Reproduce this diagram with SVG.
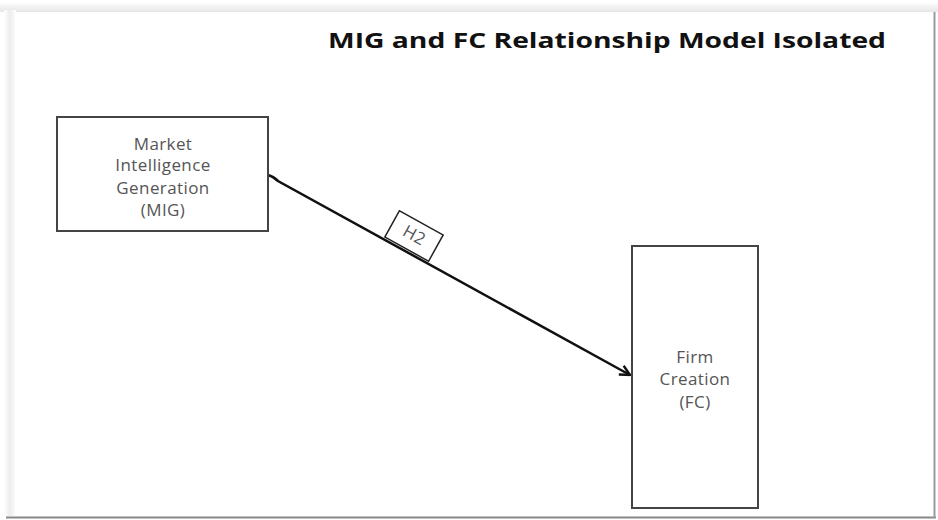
<svg xmlns="http://www.w3.org/2000/svg" width="938" height="520" viewBox="0 0 938 520">
<defs>
<linearGradient id="topShadow" x1="0" y1="0" x2="0" y2="1">
<stop offset="0" stop-color="#ffffff"/>
<stop offset="1" stop-color="#e6e6e6"/>
</linearGradient>
<linearGradient id="leftShadow" x1="0" y1="0" x2="1" y2="0">
<stop offset="0" stop-color="#ffffff"/>
<stop offset="0.5" stop-color="#ececec"/>
<stop offset="1" stop-color="#ffffff"/>
</linearGradient>
<marker id="arrow" viewBox="0 0 12 12" refX="11" refY="6" markerWidth="12" markerHeight="12" markerUnits="userSpaceOnUse" orient="auto">
<path d="M1,1 L11,6 L1,11" fill="none" stroke="#111" stroke-width="2.4"/>
</marker>
</defs>
<style>
.box{fill:#fff;stroke:#444;stroke-width:2}
.lbl{font-family:"Open Sans","Liberation Sans",sans-serif;font-size:17px;letter-spacing:0.4px;fill:#555;text-anchor:middle}
.title{font-family:"Open Sans","Liberation Sans",sans-serif;font-size:22px;font-weight:bold;fill:#111}
.conn{fill:none;stroke:#111;stroke-width:2.5}
</style>
<rect width="938" height="520" fill="#fff"/>
<rect x="0" y="2" width="938" height="10" fill="url(#topShadow)"/>
<rect x="4" y="10" width="12" height="506" fill="url(#leftShadow)"/>
<line x1="6" y1="517.5" x2="936" y2="517.5" stroke="#888" stroke-width="2"/>
<line x1="934.5" y1="12" x2="934.5" y2="518" stroke="#999" stroke-width="2"/>
<g id="title">
<text class="title" x="328" y="48" textLength="558" lengthAdjust="spacingAndGlyphs">MIG and FC Relationship Model Isolated</text>
</g>
<g id="connectors">
<path class="conn" d="M268,175 C272,176 275,178 278,181 L630,375" marker-end="url(#arrow)"/>
</g>
<g id="h2-label">
<rect x="-25" y="-15" width="50" height="30" fill="#fff" stroke="#222" stroke-width="1.5" transform="translate(414,236) rotate(29)"/>
<text class="lbl" x="0" y="5" font-size="14" fill="#333" transform="translate(414,236) rotate(29)">H2</text>
</g>
<g id="mig">
<rect class="box" x="57" y="117" width="211" height="114"/>
<text class="lbl" x="163" y="150">Market</text>
<text class="lbl" x="163" y="171">Intelligence</text>
<text class="lbl" x="163" y="194">Generation</text>
<text class="lbl" x="163" y="216">(MIG)</text>
</g>
<g id="fc">
<rect class="box" x="632" y="246" width="126" height="262"/>
<text class="lbl" x="695" y="363">Firm</text>
<text class="lbl" x="695" y="385">Creation</text>
<text class="lbl" x="695" y="408">(FC)</text>
</g>
</svg>
